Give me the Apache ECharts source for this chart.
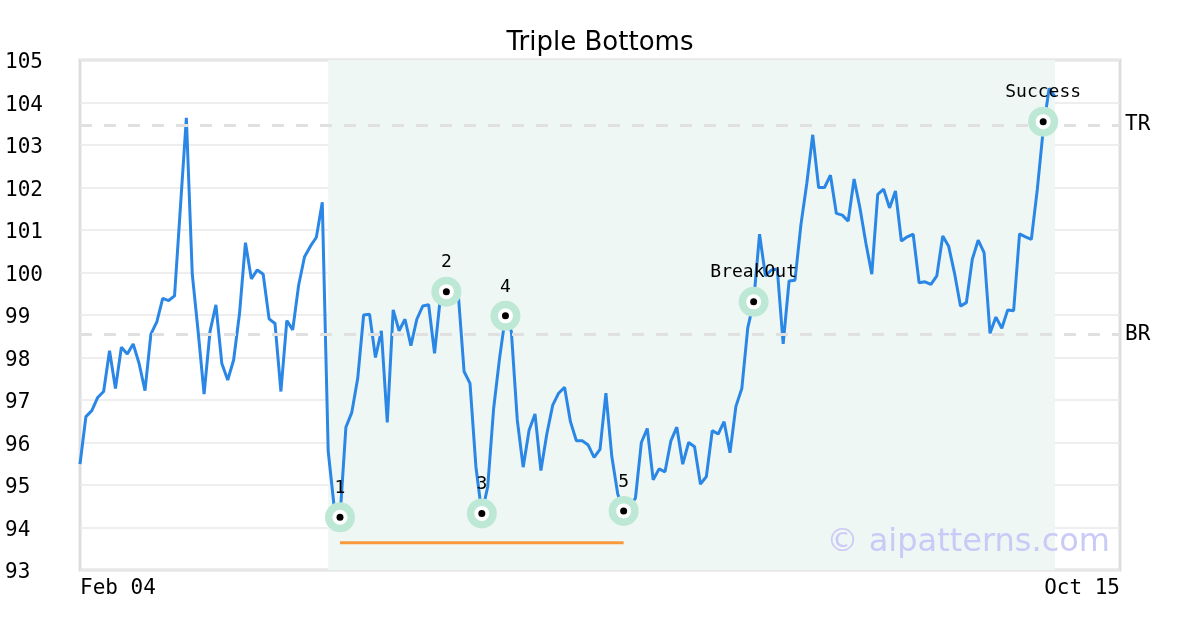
<!DOCTYPE html>
<html>
<head>
<meta charset="utf-8">
<script src="https://cdn.jsdelivr.net/npm/echarts@6/dist/echarts.min.js"></script>
<style>
html,body{margin:0;padding:0;background:#fff;}
#chart{width:1200px;height:630px;}
</style>
</head>
<body>
<div id="chart"></div>
<script>
// ---- data ----
const chartTitle = "Triple Bottoms";
const xTickLabels = ["Feb 04", "Oct 15"];
const xMaxIndex = 176; // last trading-day slot on the axis
const prices = [
  95.49, 96.61, 96.75, 97.06, 97.20, 98.16, 97.27, 98.24, 98.08, 98.32,
  97.86, 97.22, 98.55, 98.84, 99.39, 99.34, 99.45, 101.55, 103.64, 99.96,
  98.60, 97.14, 98.61, 99.24, 97.86, 97.47, 97.94, 99.04, 100.70, 99.85,
  100.06, 99.96, 98.91, 98.80, 97.20, 98.87, 98.65, 99.70, 100.37, 100.62,
  100.83, 101.65, 95.80, 94.50, 94.24, 96.36, 96.71, 97.51, 99.00, 99.02,
  98.00, 98.63, 96.47, 99.12, 98.63, 98.90, 98.28, 98.90, 99.21, 99.24,
  98.10, 99.43, 99.55, 99.47, 99.52, 97.67, 97.39, 95.43, 94.33, 94.96,
  96.80, 97.98, 98.98, 98.61, 96.53, 95.42, 96.29, 96.67, 95.34, 96.20,
  96.88, 97.16, 97.30, 96.49, 96.04, 96.04, 95.94, 95.65, 95.84, 97.16,
  95.67, 94.79, 94.39, 94.50, 94.69, 96.00, 96.33, 95.12, 95.38, 95.31,
  96.04, 96.36, 95.49, 96.00, 95.90, 95.02, 95.20, 96.28, 96.20, 96.49,
  95.76, 96.85, 97.27, 98.69, 99.31, 100.90, 99.92, 100.06, 100.08, 98.32,
  99.80, 99.82, 101.12, 102.10, 103.24, 102.00, 102.00, 102.29, 101.39, 101.35,
  101.21, 102.20, 101.51, 100.69, 99.96, 101.84, 101.96, 101.52, 101.92, 100.74,
  100.84, 100.90, 99.76, 99.78, 99.72, 99.92, 100.86, 100.62, 99.98, 99.21,
  99.29, 100.31, 100.76, 100.47, 98.57, 98.95, 98.69, 99.12, 99.10, 100.91,
  100.84, 100.78, 101.95, 103.35, 104.33, 104.14
];
const markerIndex = [44, 62, 68, 72, 92, 114, 163];
const markerValue = [94.24, 99.55, 94.33, 98.98, 94.39, 99.31, 103.55];
const markerLabel = ["1", "2", "3", "4", "5", "BreakOut", "Success"];
const patternStart = 42;
const patternEnd = 165;
const supportStart = 44;
const supportEnd = 92;
const supportLevel = 93.64;
const levelValues = [103.47, 98.55];
const levelNames = ["TR", "BR"];
const yMin = 93, yMax = 105, yStep = 1;
const watermark = "© aipatterns.com";

// ---- build ----
const lineData = prices.map((v, i) => [i, v]);
const markerData = markerIndex.map((x, i) => [x, markerValue[i], markerLabel[i]]);
const mono = '"DejaVu Sans Mono", monospace';

const chart = echarts.init(document.getElementById('chart'), null, {renderer: 'canvas'});
chart.setOption({
  animation: false,
  backgroundColor: '#ffffff',
  title: {
    text: chartTitle, left: 'center', top: 25,
    textStyle: {fontFamily: '"DejaVu Sans", sans-serif', fontWeight: 'normal', fontSize: 26, color: '#000'}
  },
  grid: {left: 80, right: 80, top: 60, bottom: 60, show: true, borderColor: '#dedede', borderWidth: 3, backgroundColor: 'transparent'},
  xAxis: {
    type: 'value', min: 0, max: xMaxIndex, interval: xMaxIndex,
    axisLine: {show: false}, axisTick: {show: false}, splitLine: {show: false},
    axisLabel: {
      margin: 8, fontFamily: mono, fontSize: 21, color: '#000',
      alignMinLabel: 'left', alignMaxLabel: 'right',
      formatter: v => v === 0 ? xTickLabels[0] : (v === xMaxIndex ? ' ' + xTickLabels[1] : '')
    }
  },
  yAxis: {
    type: 'value', min: yMin, max: yMax, interval: yStep,
    axisLine: {show: false}, axisTick: {show: false},
    splitLine: {lineStyle: {color: '#e8e8e8', width: 1.5}},
    axisLabel: {
      margin: 75, align: 'left', color: '#000',
      formatter: v => '{t|' + v + '}',
      rich: {t: {fontFamily: mono, fontSize: 21, color: '#000', padding: [6, 0, 0, 0]}}
    }
  },
  graphic: [{
    type: 'text', right: 90, top: 527, z: 100,
    style: {text: watermark, font: '32px "DejaVu Sans", sans-serif', fill: '#cacaf7'}
  }],
  series: [
    {
      type: 'line', data: [], silent: true, z: 1,
      markArea: {
        silent: true,
        itemStyle: {color: '#eff7f4'},
        data: [[{xAxis: patternStart}, {xAxis: patternEnd}]]
      },
      markLine: {
        silent: true, symbol: 'none',
        lineStyle: {color: '#e0e0e0', width: 3, type: [12, 12]},
        label: {position: 'end', distance: 5, fontFamily: mono, fontSize: 21, color: '#000', formatter: p => p.name},
        data: levelValues.map((v, i) => ({yAxis: v, name: levelNames[i]}))
      }
    },
    {
      type: 'line', data: [[supportStart, supportLevel], [supportEnd, supportLevel]],
      showSymbol: false, silent: true, z: 3,
      lineStyle: {color: '#f89a3c', width: 3}
    },
    {
      type: 'line', data: lineData, showSymbol: false, silent: true, z: 4,
      lineStyle: {color: '#2a87e6', width: 3}
    },
    {
      type: 'scatter', data: markerData, symbolSize: 30, z: 5, silent: true,
      itemStyle: {color: '#bde8d6', opacity: 1},
      label: {show: true, position: 'top', distance: 5, fontFamily: mono, fontSize: 18, color: '#000', formatter: p => p.data[2]}
    },
    {
      type: 'scatter', data: markerData, symbolSize: 15, z: 6, silent: true,
      itemStyle: {color: '#ffffff', opacity: 1}
    },
    {
      type: 'scatter', data: markerData, symbolSize: 7, z: 7, silent: true,
      itemStyle: {color: '#000000', opacity: 1}
    }
  ]
});
</script>
</body>
</html>
